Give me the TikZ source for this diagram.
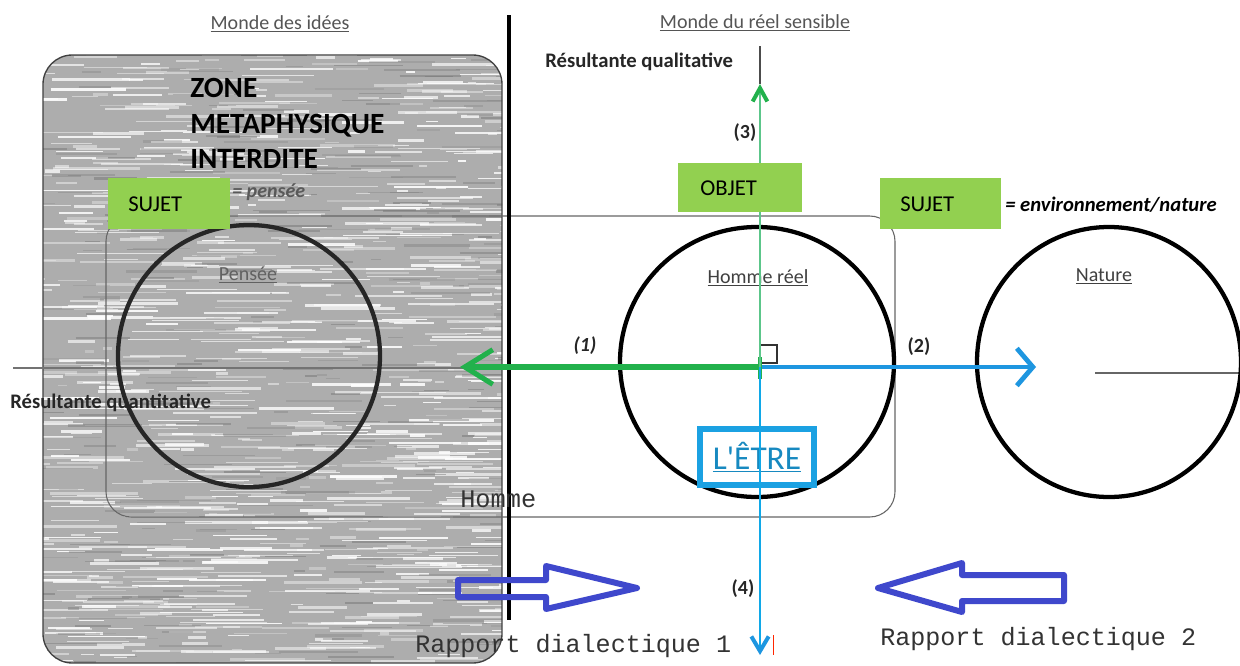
\documentclass[tikz,border=0pt]{standalone}
\usepackage{fontspec}
\setmainfont{Carlito}
\newfontfamily\monofont{Liberation Mono}
\newfontfamily\etrefont{Carlito}[Ligatures=ResetAll]
\usetikzlibrary{arrows.meta}
\newcommand\myfs[1]{\fontsize{#1pt}{#1pt}\selectfont}
\definecolor{boxgreen}{HTML}{92D050}
\definecolor{arrgreen}{HTML}{22B14C}
\definecolor{vgreen}{HTML}{5CC68A}
\definecolor{arrblue}{HTML}{1E96E0}
\definecolor{vblue}{HTML}{10A8E8}
\definecolor{etreblue}{HTML}{1BA1E2}
\definecolor{hollowblue}{HTML}{3F48CC}
\definecolor{txtgray}{HTML}{555555}
\definecolor{basegray}{HTML}{ADADAD}
\tikzset{
  lbl/.style={inner sep=0pt},
  greenbox/.style={fill=boxgreen, inner sep=0pt},
  bigcircle/.style={line width=3.2pt},
  hollow/.style={draw=hollowblue, line width=4.5pt, line join=round},
}
\begin{document}
\begin{tikzpicture}[x=0.75pt,y=-0.75pt]
\useasboundingbox (0,0) rectangle (1240,665);
\fill[white] (0,0) rectangle (1240,665);

% textured zone
\begin{scope}
\clip[rounded corners=22pt] (43,55) rectangle (502,663);
\fill[basegray] (43,55) rectangle (502,663);
\pgfmathsetseed{4711}
\foreach \i in {1,...,950}{
  \pgfmathsetmacro\xa{20+500*rnd}
  \pgfmathsetmacro\ya{50+620*rnd}
  \pgfmathsetmacro\ln{8+80*rnd}
  \pgfmathsetmacro\op{0.25+0.65*rnd}
  \pgfmathsetmacro\lw{0.6+1.6*rnd}
  \draw[white, opacity=\op, line width=\lw pt] (\xa,\ya) -- ++(\ln,0);
}
\foreach \i in {1,...,300}{
  \pgfmathsetmacro\xa{20+500*rnd}
  \pgfmathsetmacro\ya{50+620*rnd}
  \pgfmathsetmacro\ln{10+70*rnd}
  \pgfmathsetmacro\op{0.15+0.35*rnd}
  \pgfmathsetmacro\lw{0.6+1.4*rnd}
  \draw[black!55, opacity=\op, line width=\lw pt] (\xa,\ya) -- ++(\ln,0);
}
\end{scope}
\draw[black!75, line width=1pt, rounded corners=22pt] (43,55) rectangle (502,663);

% Homme frame
\draw[black!60, line width=0.8pt, rounded corners=19pt] (106,216) rectangle (895,517);

% horizontal reference lines
\coordinate (hl) at (13,368);
\coordinate (hr) at (760,368);
\draw[black!55, line width=1pt] (hl) -- (hr);
\coordinate (nl) at (1095,373);
\coordinate (nr) at (1240,373);
\draw[black!60, line width=1pt] (nl) -- (nr);

% circles
\draw[black!85, bigcircle] (249,356) ellipse [x radius=131, y radius=131];
\draw[black, bigcircle] (757,362) ellipse [x radius=137, y radius=135];
\draw[black, bigcircle] (1109,362) ellipse [x radius=132, y radius=135];

% thick separator
\coordinate (st) at (509,15);
\coordinate (sb) at (509,620);
\draw[black, line width=3.2pt] (st) -- (sb);

% titles
\node[lbl, anchor=base, text=txtgray] (mdi) at (280,29) {\myfs{15}\underline{Monde des idées}};
\node[lbl, anchor=base, text=txtgray] (mdr) at (755,28) {\myfs{15}\underline{Monde du réel sensible}};

% zone metaphysique
\node[lbl, anchor=base west] (z1) at (190,97) {\myfs{22}\bfseries ZONE};
\node[lbl, anchor=base west] (z2) at (190,133) {\myfs{22}\bfseries METAPHYSIQUE};
\node[lbl, anchor=base west] (z3) at (190,168) {\myfs{22}\bfseries INTERDITE};
\node[lbl, anchor=base west, text=black!65] (pen) at (232,197) {\myfs{15}\bfseries\itshape = pensée};

% circle labels
\node[lbl, anchor=base, text=black!62] (lpen) at (248,280) {\myfs{15}\underline{Pensée}};
\node[lbl, anchor=base, text=black!75] (lhr) at (758,283) {\myfs{15}\underline{Homme réel}};
\node[lbl, anchor=base, text=black!75] (lnat) at (1104,281) {\myfs{15}\underline{Nature}};

% other labels
\node[lbl, anchor=base west, text=black!85] (rql) at (545,67) {\myfs{15.5}\bfseries Résultante qualitative};
\node[lbl, anchor=base west, text=black!85] (rqn) at (10,408) {\myfs{15.5}\bfseries Résultante quantitative};
\node[lbl, text=black!85] (n1) at (585,346) {\myfs{15}\bfseries\itshape (1)};
\node[lbl, text=black!85] (n2) at (919,347) {\myfs{15}\bfseries (2)};
\node[lbl, text=black!85] (n3) at (745,133) {\myfs{15}\bfseries (3)};
\node[lbl, text=black!85] (n4) at (743,589) {\myfs{15}\bfseries (4)};
\node[lbl, anchor=base west, text=black!80] (lhom) at (460,507) {\monofont\myfs{19}Homme};
\node[lbl, anchor=base west, text=black!80] (rd1) at (415,652) {\monofont\myfs{18.8}Rapport dialectique 1};
\node[lbl, anchor=base west, text=black!80] (rd2) at (880,645) {\monofont\myfs{18.8}Rapport dialectique 2};
\node[lbl, anchor=base west] (env) at (1005,211) {\myfs{15.5}\bfseries\itshape = environnement/nature};

% right angle mark
\draw[black!80, line width=0.8pt] (760,345) rectangle (777,363);

% L'ETRE box
\node[draw=etreblue, fill=white, line width=4pt, minimum width=85.5pt, minimum height=42pt, inner sep=0pt, text=etreblue!85!black] (etre) at (757,457) {\etrefont\myfs{25}\underline{L'ÊTRE}};

% arrows (1) and (2)
\coordinate (c) at (760,367);
\coordinate (gtip) at (460,367);
\coordinate (btip) at (1036,367);
\draw[arrblue, line width=3.6pt, -{Straight Barb[length=12pt,width=28pt]}] (c) -- (btip);
\draw[arrgreen, line width=3.8pt, -{Straight Barb[length=21pt,width=26pt]}] (c) -- (gtip);
\draw[arrgreen, line width=2.6pt] (760,357) -- (760,379);

% vertical axis (3) and (4)
\coordinate (vt) at (760,46);
\coordinate (vg) at (760,84);
\coordinate (vb) at (760,655);
\draw[black!70, line width=0.8pt] (vt) -- (vg);
\draw[vgreen, line width=0.9pt, -{Straight Barb[length=10pt,width=11pt,line width=3pt,color=arrgreen]}] (c) -- (vg);
\draw[vblue, line width=0.9pt, -{Straight Barb[length=11pt,width=13pt,line width=3pt,color=arrblue]}] (c) -- (vb);
\draw[red!70!orange, line width=0.6pt] (773,635) -- (773,655);

% green boxes
\node[greenbox, minimum width=91.5pt, minimum height=38.25pt, anchor=north west] (sujetA) at (108,178) {};
\node[lbl, anchor=west] (sujetAt) at ([xshift=15pt]sujetA.west) {\myfs{17}SUJET};
\node[greenbox, minimum width=93pt, minimum height=36.75pt, anchor=north west] (objet) at (678,163) {};
\node[lbl, anchor=west] (objett) at ([xshift=16.5pt]objet.west) {\myfs{17}OBJET};
\node[greenbox, minimum width=90.75pt, minimum height=38.25pt, anchor=north west] (sujetB) at (880,178) {};
\node[lbl, anchor=west] (sujetBt) at ([xshift=15pt]sujetB.west) {\myfs{17}SUJET};

% hollow arrows
\draw[hollow] (458,580) -- (546,580) -- (546,566) -- (637,588) -- (546,609) -- (546,597) -- (458,597) -- cycle;
\draw[hollow] (1064,575) -- (962,575) -- (962,563) -- (878,588) -- (962,612) -- (962,601) -- (1064,601) -- cycle;
\end{tikzpicture}
\end{document}
